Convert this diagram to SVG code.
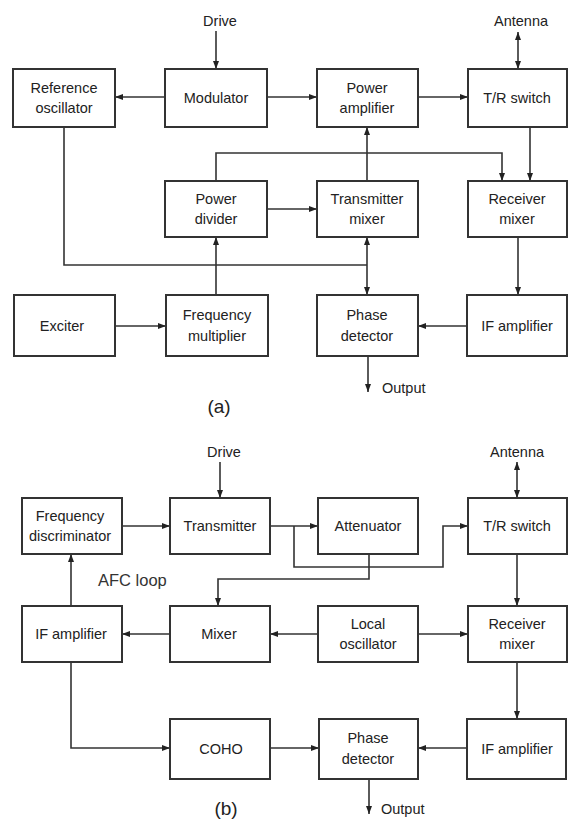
<svg xmlns="http://www.w3.org/2000/svg" width="568" height="820" viewBox="0 0 568 820">
<style>
.box{fill:#fff;stroke:#333;stroke-width:2}
.t{font-family:"Liberation Sans",Arial,sans-serif;font-size:14.5px;fill:#222;text-anchor:middle}
.lbl{font-family:"Liberation Sans",Arial,sans-serif;font-size:14.5px;fill:#222}
.big{font-family:"Liberation Sans",Arial,sans-serif;font-size:19px;fill:#222;text-anchor:middle}
.afc{font-family:"Liberation Sans",Arial,sans-serif;font-size:16.5px;fill:#333}
.c{fill:none;stroke:#333;stroke-width:1.6}
</style>
<defs>
<marker id="ah" markerWidth="8" markerHeight="6" refX="8" refY="3" orient="auto" markerUnits="userSpaceOnUse">
<path d="M0,0 L8,3 L0,6 z" fill="#222"/>
</marker>
<marker id="as" markerWidth="8" markerHeight="6" refX="0" refY="3" orient="auto" markerUnits="userSpaceOnUse">
<path d="M8,0 L0,3 L8,6 z" fill="#222"/>
</marker>
</defs>
<rect width="568" height="820" fill="#fff"/>

<g id="connectors">
<!-- (a) -->
<line class="c" x1="216" y1="31" x2="216" y2="69" marker-end="url(#ah)"/>
<line class="c" x1="165" y1="97" x2="115" y2="97" marker-end="url(#ah)"/>
<line class="c" x1="267" y1="97" x2="317" y2="97" marker-end="url(#ah)"/>
<line class="c" x1="418" y1="97" x2="468" y2="97" marker-end="url(#ah)"/>
<line class="c" x1="518" y1="32" x2="518" y2="69" marker-start="url(#as)" marker-end="url(#ah)"/>
<line class="c" x1="530" y1="127" x2="530" y2="181" marker-end="url(#ah)"/>
<polyline class="c" points="216,181 216,153 502,153 502,181" marker-end="url(#ah)"/>
<line class="c" x1="367" y1="181" x2="367" y2="127" marker-end="url(#ah)"/>
<line class="c" x1="267" y1="209" x2="317" y2="209" marker-end="url(#ah)"/>
<polyline class="c" points="64,127 64,265 367,265"/>
<line class="c" x1="367" y1="265" x2="367" y2="237" marker-end="url(#ah)"/>
<line class="c" x1="367" y1="265" x2="367" y2="295" marker-end="url(#ah)"/>
<line class="c" x1="216" y1="295" x2="216" y2="237" marker-end="url(#ah)"/>
<line class="c" x1="115" y1="326" x2="166" y2="326" marker-end="url(#ah)"/>
<line class="c" x1="518" y1="237" x2="518" y2="295" marker-end="url(#ah)"/>
<line class="c" x1="467" y1="326" x2="418" y2="326" marker-end="url(#ah)"/>
<line class="c" x1="368" y1="356" x2="368" y2="392" marker-end="url(#ah)"/>
<!-- (b) -->
<line class="c" x1="220" y1="462" x2="220" y2="498" marker-end="url(#ah)"/>
<line class="c" x1="517" y1="462" x2="517" y2="498" marker-start="url(#as)" marker-end="url(#ah)"/>
<line class="c" x1="122" y1="526" x2="170" y2="526" marker-end="url(#ah)"/>
<line class="c" x1="270" y1="526" x2="318" y2="526" marker-end="url(#ah)"/>
<polyline class="c" points="294,526 294,567 443,567 443,526 468,526" marker-end="url(#ah)"/>
<polyline class="c" points="369,554 369,579 218,579 218,606" marker-end="url(#ah)"/>
<line class="c" x1="517" y1="554" x2="517" y2="606" marker-end="url(#ah)"/>
<line class="c" x1="71" y1="606" x2="71" y2="554" marker-end="url(#ah)"/>
<line class="c" x1="170" y1="634" x2="122" y2="634" marker-end="url(#ah)"/>
<line class="c" x1="318" y1="634" x2="270" y2="634" marker-end="url(#ah)"/>
<line class="c" x1="418" y1="634" x2="468" y2="634" marker-end="url(#ah)"/>
<polyline class="c" points="71,662 71,748 170,748" marker-end="url(#ah)"/>
<line class="c" x1="517" y1="662" x2="517" y2="719" marker-end="url(#ah)"/>
<line class="c" x1="270" y1="748" x2="319" y2="748" marker-end="url(#ah)"/>
<line class="c" x1="467" y1="748" x2="418" y2="748" marker-end="url(#ah)"/>
<line class="c" x1="369" y1="779" x2="369" y2="814" marker-end="url(#ah)"/>
</g>

<g id="labels">
<text class="t" x="220" y="26">Drive</text>
<text class="t" x="521" y="26">Antenna</text>
<text class="lbl" x="382" y="393">Output</text>
<text class="big" x="219" y="413">(a)</text>
<text class="t" x="224" y="457">Drive</text>
<text class="t" x="517" y="457">Antenna</text>
<text class="afc" x="98" y="586">AFC loop</text>
<text class="lbl" x="381" y="814">Output</text>
<text class="big" x="226" y="815">(b)</text>
</g>

<g id="ref_osc"><rect class="box" x="13" y="69" width="102" height="58"/><text class="t" x="64" y="93">Reference</text><text class="t" x="64" y="113">oscillator</text></g>
<g id="modulator"><rect class="box" x="165" y="69" width="102" height="58"/><text class="t" x="216" y="103">Modulator</text></g>
<g id="power_amp"><rect class="box" x="317" y="69" width="101" height="58"/><text class="t" x="367" y="93">Power</text><text class="t" x="367" y="113">amplifier</text></g>
<g id="tr_switch_a"><rect class="box" x="468" y="69" width="99" height="58"/><text class="t" x="517" y="103">T/R switch</text></g>
<g id="power_divider"><rect class="box" x="165" y="181" width="102" height="56"/><text class="t" x="216" y="204">Power</text><text class="t" x="216" y="224">divider</text></g>
<g id="tx_mixer"><rect class="box" x="317" y="181" width="101" height="56"/><text class="t" x="367" y="204">Transmitter</text><text class="t" x="367" y="224">mixer</text></g>
<g id="rx_mixer_a"><rect class="box" x="468" y="181" width="99" height="56"/><text class="t" x="517" y="204">Receiver</text><text class="t" x="517" y="224">mixer</text></g>
<g id="exciter"><rect class="box" x="14" y="295" width="101" height="61"/><text class="t" x="62" y="331">Exciter</text></g>
<g id="freq_mult"><rect class="box" x="166" y="295" width="102" height="61"/><text class="t" x="217" y="320">Frequency</text><text class="t" x="217" y="341">multiplier</text></g>
<g id="phase_det_a"><rect class="box" x="317" y="295" width="101" height="61"/><text class="t" x="367" y="320">Phase</text><text class="t" x="367" y="341">detector</text></g>
<g id="if_amp_a"><rect class="box" x="467" y="295" width="100" height="61"/><text class="t" x="517" y="331">IF amplifier</text></g>

<g id="freq_disc"><rect class="box" x="22" y="498" width="100" height="56"/><text class="t" x="70" y="521">Frequency</text><text class="t" x="70" y="541">discriminator</text></g>
<g id="transmitter"><rect class="box" x="170" y="498" width="100" height="56"/><text class="t" x="220" y="531">Transmitter</text></g>
<g id="attenuator"><rect class="box" x="318" y="498" width="100" height="56"/><text class="t" x="368" y="531">Attenuator</text></g>
<g id="tr_switch_b"><rect class="box" x="468" y="498" width="99" height="56"/><text class="t" x="517" y="531">T/R switch</text></g>
<g id="if_amp_b1"><rect class="box" x="22" y="606" width="100" height="56"/><text class="t" x="71" y="639">IF amplifier</text></g>
<g id="mixer"><rect class="box" x="170" y="606" width="100" height="56"/><text class="t" x="219" y="639">Mixer</text></g>
<g id="local_osc"><rect class="box" x="318" y="606" width="100" height="56"/><text class="t" x="368" y="629">Local</text><text class="t" x="368" y="649">oscillator</text></g>
<g id="rx_mixer_b"><rect class="box" x="468" y="606" width="99" height="56"/><text class="t" x="517" y="629">Receiver</text><text class="t" x="517" y="649">mixer</text></g>
<g id="coho"><rect class="box" x="170" y="719" width="100" height="60"/><text class="t" x="221" y="754">COHO</text></g>
<g id="phase_det_b"><rect class="box" x="319" y="719" width="99" height="60"/><text class="t" x="368" y="743">Phase</text><text class="t" x="368" y="764">detector</text></g>
<g id="if_amp_b2"><rect class="box" x="467" y="719" width="99" height="60"/><text class="t" x="517" y="754">IF amplifier</text></g>
</svg>
